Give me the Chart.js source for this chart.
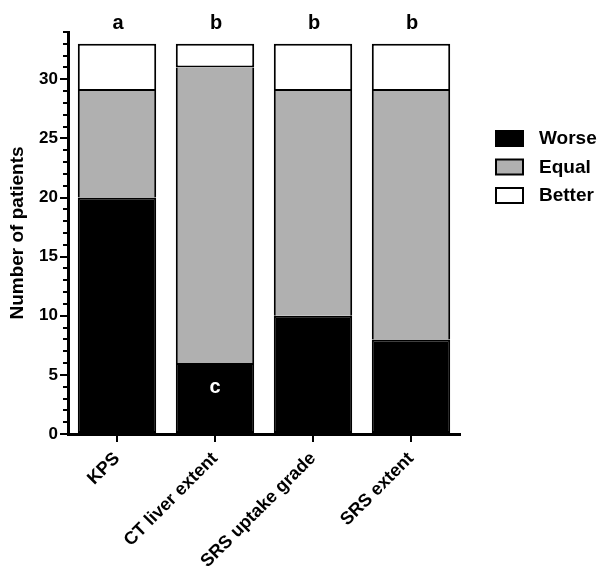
<!DOCTYPE html>
<html>
<head>
<meta charset="utf-8">
<script src="https://cdn.jsdelivr.net/npm/chart.js@4/dist/chart.umd.min.js"></script>
<style>
  html, body { margin: 0; padding: 0; background: #fff; }
  #wrap { width: 605px; height: 569px; }
</style>
</head>
<body>
<div id="wrap"><canvas id="c" width="605" height="569"></canvas></div>
<script>
const categories = ['KPS', 'CT liver extent', 'SRS uptake grade', 'SRS extent'];
const worse = [20, 6, 10, 8];
const equal = [9, 25, 19, 21];
const better = [4, 2, 4, 4];
const topLetters = ['a', 'b', 'b', 'b'];
const innerLetters = ['', 'c', '', ''];

const FONT = '"Liberation Sans", Arial, sans-serif';

// minor ticks, letters and legend drawn on top
const extras = {
  id: 'extras',
  afterDraw(chart) {
    const ctx = chart.ctx;
    const x = chart.scales.x, y = chart.scales.y;
    ctx.save();
    ctx.strokeStyle = '#000';
    ctx.lineWidth = 2;
    for (let v = 0; v <= 34; v++) {
      if (v % 5 === 0) continue;
      const py = Math.round(y.getPixelForValue(v));
      ctx.beginPath();
      ctx.moveTo(y.right - 5, py);
      ctx.lineTo(y.right, py);
      ctx.stroke();
    }
    ctx.font = 'bold 20px ' + FONT;
    ctx.textAlign = 'center';
    ctx.textBaseline = 'middle';
    categories.forEach((c, i) => {
      const px = x.getPixelForValue(i);
      const total = worse[i] + equal[i] + better[i];
      ctx.fillStyle = '#000';
      ctx.fillText(topLetters[i], px + 1, y.getPixelForValue(total) - 20);
      if (innerLetters[i]) {
        ctx.fillStyle = '#fff';
        ctx.fillText(innerLetters[i], px, y.getPixelForValue(worse[i]) + 24);
      }
    });
    // legend
    const ds = chart.data.datasets;
    ctx.textAlign = 'left';
    ctx.font = 'bold 19px ' + FONT;
    ds.forEach((d, i) => {
      const cy = 138 + i * 28.5;
      ctx.fillStyle = d.backgroundColor;
      ctx.fillRect(496, cy - 7, 27, 15);
      ctx.lineWidth = 2;
      ctx.strokeStyle = '#000';
      ctx.strokeRect(496, cy - 7, 27, 15);
      ctx.fillStyle = '#000';
      ctx.fillText(d.label, 539, cy + 1);
    });
    ctx.restore();
  }
};

new Chart(document.getElementById('c'), {
  type: 'bar',
  data: {
    labels: categories,
    datasets: [
      { label: 'Worse', data: worse, backgroundColor: '#000000', borderWidth: 2 },
      { label: 'Equal', data: equal, backgroundColor: '#b0b0b0', borderWidth: { top: 0, bottom: 0, left: 2, right: 2 } },
      { label: 'Better', data: better, backgroundColor: '#ffffff', borderWidth: 2 }
    ].map(d => Object.assign(d, { borderColor: '#000', borderSkipped: false }))
  },
  options: {
    responsive: false,
    animation: false,
    layout: { padding: { left: 0, right: 145, top: 32, bottom: 0 } },
    datasets: { bar: { barPercentage: 0.8, categoryPercentage: 1.0 } },
    plugins: { legend: { display: false }, tooltip: { enabled: false } },
    scales: {
      x: {
        stacked: true,
        afterFit(s) { s.height = 135; },
        border: { color: '#000', width: 3 },
        grid: { offset: false, drawOnChartArea: false, color: '#000', lineWidth: 2, tickLength: 8 },
        ticks: {
          color: '#000', font: { family: FONT, size: 18, weight: 'bold' },
          minRotation: 45, maxRotation: 45, padding: 6
        }
      },
      y: {
        stacked: true,
        min: 0, max: 34,
        afterFit(s) { s.width = 68; },
        afterBuildTicks(s) { s.ticks = s.ticks.filter(t => t.value % 5 === 0); },
        border: { color: '#000', width: 3 },
        grid: { drawOnChartArea: false, color: '#000', lineWidth: 2, tickLength: 8 },
        ticks: { stepSize: 5, color: '#000', font: { family: FONT, size: 17, weight: 'bold' }, padding: 2 },
        title: { display: true, text: 'Number of patients', color: '#000', font: { family: FONT, size: 19, weight: 'bold' }, padding: { top: 6, bottom: 0 } }
      }
    }
  },
  plugins: [extras]
});
</script>
</body>
</html>
